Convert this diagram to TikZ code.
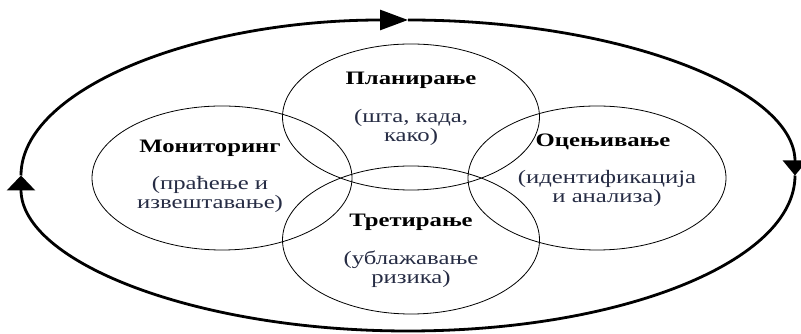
\documentclass[tikz,border=0pt]{standalone}
\usepackage{fontspec}
\setmainfont{Liberation Serif}[FakeStretch=1.3]
\usetikzlibrary{arrows.meta}
\definecolor{subink}{RGB}{38,44,68}
\tikzset{
  ring/.style={black, line width=0.8pt},
  cycle/.style={black, line width=2.8pt},
  head/.style={font=\fontsize{19}{19}\selectfont\bfseries, align=center},
  note/.style={font=\fontsize{19}{19}\selectfont, text=subink, align=center}
}

\begin{document}
\begin{tikzpicture}[x=1pt,y=1pt]
\useasboundingbox (0,0) rectangle (801,334);
% outer cycle, drawn clockwise in three pieces
\draw [cycle, -{Triangle[length=28pt,width=20pt]}] (21,158.5) arc (180:90:387 and 155.5);
\draw [cycle, -{Triangle[length=15pt,width=24pt]}] (408,314) arc (90:0:387 and 155.5);
\draw [cycle, -{Triangle[length=15pt,width=28pt]}] (795,158.5) arc (0:-180:387 and 155.5);
% the four rings
\draw [ring] (411,217) ellipse (128.5 and 73);
\draw [ring] (222,156) ellipse (130 and 72);
\draw [ring] (597,156) ellipse (129 and 72);
\draw [ring] (411,94) ellipse (128.5 and 74);
% labels
\node [head] (plan) at (411,254) {Планирање};
\node [note] (planwhat) at (411,206.5) {(шта, када,\\ како)};
\node [head] (mon) at (210,186) {Мониторинг};
\node [note] (monwhat) at (210,140) {(праћење и\\ извештавање)};
\node [head] (ocj) at (603,192) {Оцењивање};
\node [note] (ocjwhat) at (607,146) {(идентификација\\ и анализа)};
\node [head] (tret) at (411,112) {Третирање};
\node [note] (tretwhat) at (411,65) {(ублажавање\\ ризика)};
\end{tikzpicture}
\end{document}
